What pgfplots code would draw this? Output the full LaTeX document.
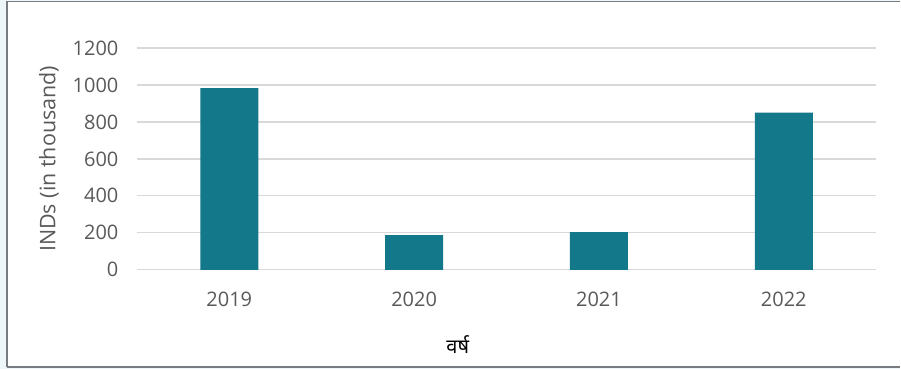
\documentclass[border=0pt]{standalone}
\usepackage{pgfplots}
\pgfplotsset{compat=1.18}
\usepackage{fontspec}
\setmainfont{Open Sans}
\newfontfamily\devfont[Script=Devanagari]{Noto Sans}
\definecolor{barc}{RGB}{18,120,138}
\definecolor{gridc}{RGB}{217,217,217}
\definecolor{txt}{RGB}{89,89,89}
\definecolor{outer}{RGB}{238,246,249}
\definecolor{frame}{RGB}{120,124,128}
\begin{document}
\begin{tikzpicture}[x=1pt,y=1pt]
\fill[outer] (0,0) rectangle (901,369);
\fill[white] (7,1.5) rectangle (901,367.5);
\draw[frame,line width=1.6pt] (7,1.5) -- (7,367.5) -- (901,367.5);
\draw[frame,line width=1.6pt] (7,1.5) -- (901,1.5);
\begin{axis}[
  at={(137pt,99pt)}, anchor=south west,
  scale only axis, width=740pt, height=222pt,
  ymin=0, ymax=1200, ytick={0,200,...,1200},
  xmin=-0.5, xmax=3.5, xtick=data,
  xticklabels={2019,2020,2021,2022},
  axis line style={draw=none},
  tick style={draw=none},
  ymajorgrids, grid style={gridc, line width=1.3pt},
  ybar, bar width=58pt,
  ticklabel style={font=\fontsize{20}{22}\selectfont, text=txt},
  /pgf/number format/assume math mode=true,
  /pgf/number format/1000 sep={},
  yticklabel style={xshift=-15pt},
  xticklabel style={yshift=-14pt},
  ylabel={INDs (in thousand)},
  ylabel style={font=\fontsize{21.5}{23}\selectfont, text=txt, at={(axis description cs:-0.119,0.5)}, anchor=center},
  xlabel={\devfont वर्ष},
  xlabel style={font=\fontsize{20}{22}\selectfont, text=black, at={(axis description cs:0.434,-0.338)}, anchor=center},
  clip=false,
]
\addplot[fill=barc, draw=none] coordinates {(0,982) (1,187) (2,204) (3,850)};
\end{axis}
\end{tikzpicture}
\end{document}
